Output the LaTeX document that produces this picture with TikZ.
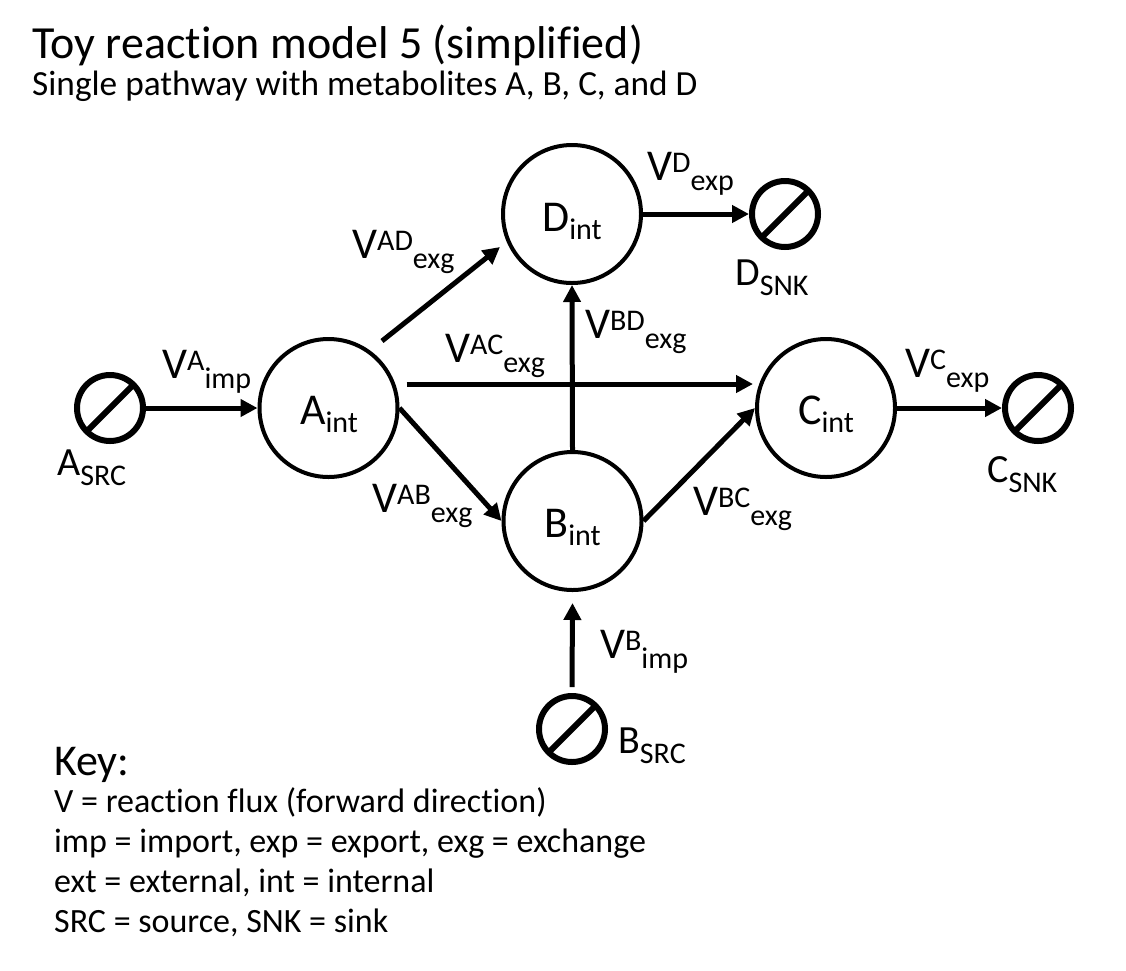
\documentclass[tikz,border=0pt]{standalone}
\usepackage{fontspec}
\setmainfont{Carlito}[Ligatures={NoCommon}]
\usetikzlibrary{arrows.meta,calc}
\newcommand{\fluxlab}[2]{\fontsize{44}{44}\selectfont V\raisebox{8pt}{\fontsize{30}{30}\selectfont #1}\raisebox{-10pt}{\fontsize{30}{30}\selectfont #2}}
\newcommand{\metlab}[2]{\fontsize{44}{44}\selectfont #1\raisebox{-8pt}{\fontsize{30}{30}\selectfont #2}}
\newcommand{\extlab}[2]{\fontsize{40}{40}\selectfont #1\raisebox{-10pt}{\fontsize{30}{30}\selectfont #2}}
\tikzset{
  metab/.style={circle, draw, line width=4pt, minimum size=138pt, inner sep=0pt},
  extnode/.style={circle, draw, line width=6pt, minimum size=66pt, inner sep=0pt,
    path picture={\draw[line width=6pt] (path picture bounding box.south west) -- (path picture bounding box.north east);}},
  flux/.style={line width=5pt, -{Triangle[length=17pt,width=17pt]}},
  txt/.style={inner sep=0pt, anchor=base west},
  ctxt/.style={inner sep=0pt, anchor=base},
  keytxt/.style={txt, font=\fontsize{34}{34}\selectfont},
}
\begin{document}
\begin{tikzpicture}[x=1pt,y=-1pt]
\useasboundingbox (0,0) rectangle (1126,970);
% title
\node[txt] (title) at (32,58) {\fontsize{46}{46}\selectfont Toy reaction model 5 (simplified)};
\node[txt] (subtitle) at (32,95) {\fontsize{35.3}{35.3}\selectfont Single pathway with metabolites A, B, C, and D};
% metabolites
\node[metab] (A) at (328.5,408) {};
\node[metab] (B) at (572.5,521) {};
\node[metab] (C) at (826,408) {};
\node[metab] (D) at (572,214) {};
\node[ctxt] (Alab) at (329,424) {\metlab{A}{int}};
\node[ctxt] (Blab) at (572.5,537) {\metlab{B}{int}};
\node[ctxt] (Clab) at (826,424) {\metlab{C}{int}};
\node[ctxt] (Dlab) at (572,231) {\metlab{D}{int}};
% sources and sinks
\node[extnode] (asrc) at (110,408) {};
\node[extnode] (bsrc) at (572,729) {};
\node[extnode] (csnk) at (1038,408) {};
\node[extnode] (dsnk) at (785,214) {};
\node[txt] (asrclab) at (57,475) {\extlab{A}{SRC}};
\node[txt] (bsrclab) at (618,753) {\extlab{B}{SRC}};
\node[txt] (csnklab) at (987,482) {\extlab{C}{SNK}};
\node[txt] (dsnklab) at (735,285) {\extlab{D}{SNK}};
% connectors
\draw[flux] (asrc) -- (A);
\draw[flux] ($(A)+(78,-24)$) -- ($(C)+(-73,-24)$);
\draw[flux] ($(A)+(53.5,-67)$) -- ($(D)+(-72,33)$);
\draw[flux] (A.east) -- (B.west);
\draw[flux] (B.north) -- (D.south);
\draw[flux] (B.east) -- (C.west);
\draw[flux] (D) -- (dsnk);
\draw[flux] (C) -- (csnk);
\draw[flux] ($(bsrc.north)+(0,-6)$) -- ($(B.south)+(0,11)$);
% flux labels
\node[txt] (vAimp) at (162,378) {\fluxlab{A}{imp}};
\node[txt] (vADexg) at (352,258) {\fluxlab{AD}{exg}};
\node[txt] (vACexg) at (445,362) {\fluxlab{AC}{exg}};
\node[txt] (vABexg) at (372,512) {\fluxlab{AB}{exg}};
\node[txt] (vBDexg) at (585,338) {\fluxlab{BD}{exg}};
\node[txt] (vBCexg) at (693,515) {\fluxlab{BC}{exg}};
\node[txt] (vDexp) at (647,180) {\fluxlab{D}{exp}};
\node[txt] (vCexp) at (905,377) {\fluxlab{C}{exp}};
\node[txt] (vBimp) at (600,658) {\fluxlab{B}{imp}};
% key
\node[txt] (key) at (54,775) {\fontsize{44}{44}\selectfont Key:};
\node[keytxt] (k1) at (54,812) {V = reaction flux (forward direction)};
\node[keytxt] (k2) at (54,852) {imp = import, exp = export, exg = exchange};
\node[keytxt] (k3) at (54,892) {ext = external, int = internal};
\node[keytxt] (k4) at (54,932) {SRC = source, SNK = sink};
\end{tikzpicture}
\end{document}
